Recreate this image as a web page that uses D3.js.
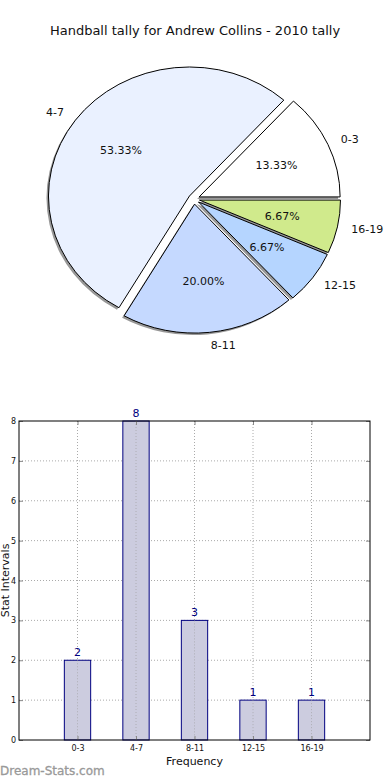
<!DOCTYPE html>
<html><head><meta charset="utf-8">
<script src="https://cdn.jsdelivr.net/npm/d3@7"></script>
<style>body{margin:0;background:#fff}svg{display:block;font-family:"DejaVu Sans",sans-serif}</style>
</head><body>
<svg id="c" width="390" height="780"></svg>
<script>
const categories = ["0-3","4-7","8-11","12-15","16-19"];
const values = [2,8,3,1,1];
const pieColors = ["#ffffff","#eaf1ff","#c5d9ff","#b5d5ff","#d0ea8c"];
const yTicks = [0,1,2,3,4,5,6,7,8];
const title = "Handball tally for Andrew Collins - 2010 tally";

const svg = d3.select("#c");
svg.append("rect").attr("width",390).attr("height",780).attr("fill","#fff");
svg.append("text").attr("x",195).attr("y",35).attr("text-anchor","middle")
  .attr("font-size",13).attr("fill","#111").text(title);

// ---- Pie ----
const cx = 194, cy = 199, r = 141, sy = 129/141, ex = 5.6;
const total = d3.sum(values);
const pie = d3.pie().sort(null).startAngle(Math.PI/2).endAngle(Math.PI/2 - 2*Math.PI);
const arcs = pie(values);
const arc = d3.arc().innerRadius(0).outerRadius(r);
const g = svg.append("g");
function mid(d){ const a = (d.startAngle + d.endAngle)/2; return Math.PI/2 - a; }
arcs.forEach((d,i)=>{
  const m = mid(d);
  g.append("path")
   .attr("transform",`translate(${cx-2+ex*Math.cos(m)},${cy+2-ex*Math.sin(m)*sy}) scale(1,${sy})`)
   .attr("d",arc(d)).attr("fill","#444").attr("opacity",0.55);
});
arcs.forEach((d,i)=>{
  const m = mid(d);
  g.append("path")
   .attr("transform",`translate(${cx+ex*Math.cos(m)},${cy-ex*Math.sin(m)*sy}) scale(1,${sy})`)
   .attr("d",arc(d)).attr("fill",pieColors[i]).attr("stroke","#000")
   .attr("stroke-width",1).attr("vector-effect","non-scaling-stroke");
});
arcs.forEach((d,i)=>{
  const m = mid(d), c = Math.cos(m), s = Math.sin(m);
  const lx = cx + (ex + 1.1*r)*c, ly = cy - (ex + 1.1*r)*s*sy;
  g.append("text").attr("x",lx).attr("y",ly).attr("dy","0.35em")
   .attr("text-anchor", c>0?"start":"end").attr("font-size",11).attr("fill","#111")
   .text(categories[i]);
  const px = cx + (ex + 0.6*r)*c, py = cy - (ex + 0.6*r)*s*sy;
  g.append("text").attr("x",px).attr("y",py).attr("dy","0.35em")
   .attr("text-anchor","middle").attr("font-size",11).attr("fill","#111")
   .text((values[i]/total*100).toFixed(2)+"%");
});

// ---- Bar chart ----
const L=19,R=370,T=421,B=740;
const x = d3.scaleLinear().domain([0,6]).range([L,R]);
const y = d3.scaleLinear().domain([0,8]).range([B,T]);
const bg = svg.append("g");
yTicks.forEach(t=>{ if(t>0&&t<8) bg.append("line").attr("x1",L).attr("x2",R).attr("y1",y(t)).attr("y2",y(t))
  .attr("stroke","#aaa").attr("stroke-width",1).attr("stroke-dasharray","1,2"); });
categories.forEach((c,i)=>{ bg.append("line").attr("x1",x(i+1)).attr("x2",x(i+1)).attr("y1",T).attr("y2",B)
  .attr("stroke","#aaa").attr("stroke-width",1).attr("stroke-dasharray","1,2"); });
const bw = x(0.45)-x(0);
categories.forEach((c,i)=>{
  bg.append("rect").attr("x",x(i+1)-bw/2).attr("y",y(values[i])).attr("width",bw)
    .attr("height",y(0)-y(values[i])).attr("fill","#ccccdf").attr("stroke","#000080").attr("stroke-width",1);
  bg.append("text").attr("x",x(i+1)).attr("y",y(values[i])-4).attr("text-anchor","middle")
    .attr("font-size",11).attr("fill","#000080").text(values[i]);
});
categories.forEach((c,i)=>{ bg.append("line").attr("x1",x(i+1)).attr("x2",x(i+1)).attr("y1",y(values[i])).attr("y2",B)
  .attr("stroke","#999").attr("stroke-opacity",0.6).attr("stroke-width",1).attr("stroke-dasharray","1,2"); });
const ya = d3.axisLeft(y).tickValues(yTicks).tickSize(-4).tickPadding(3).tickFormat(d3.format("d"));
const yAx = bg.append("g").attr("transform",`translate(${L},0)`).call(ya);
const yaR = d3.axisRight(y).tickValues(yTicks).tickSize(-4).tickFormat("");
const yAxR = bg.append("g").attr("transform",`translate(${R},0)`).call(yaR);
const xa = d3.axisBottom(x).tickValues([1,2,3,4,5]).tickSize(-4).tickPadding(5).tickFormat((d)=>categories[d-1]);
const xAx = bg.append("g").attr("transform",`translate(0,${B})`).call(xa);
const xaT = d3.axisTop(x).tickValues([1,2,3,4,5]).tickSize(-4).tickFormat("");
const xAxT = bg.append("g").attr("transform",`translate(0,${T})`).call(xaT);
[yAx,yAxR,xAx,xAxT].forEach(a=>{
  a.select(".domain").remove();
  a.selectAll(".tick line").attr("stroke","#888");
  a.selectAll("text").attr("font-size",8).attr("font-family","DejaVu Sans").attr("fill","#111");
});
bg.append("rect").attr("x",L).attr("y",T).attr("width",R-L).attr("height",B-T)
  .attr("fill","none").attr("stroke","#000").attr("stroke-width",1);
bg.append("text").attr("x",(L+R)/2).attr("y",765).attr("text-anchor","middle")
  .attr("font-size",11).attr("fill","#111").text("Frequency");
bg.append("text").attr("transform",`translate(8.5,${(T+B)/2}) rotate(-90)`).attr("text-anchor","middle")
  .attr("font-size",11).attr("fill","#111").text("Stat Intervals");
svg.append("text").attr("x",0).attr("y",775).attr("font-size",12)
  .attr("fill","#999").attr("stroke","#999").attr("stroke-width",0.3).text("Dream-Stats.com");
</script>
</body></html>
